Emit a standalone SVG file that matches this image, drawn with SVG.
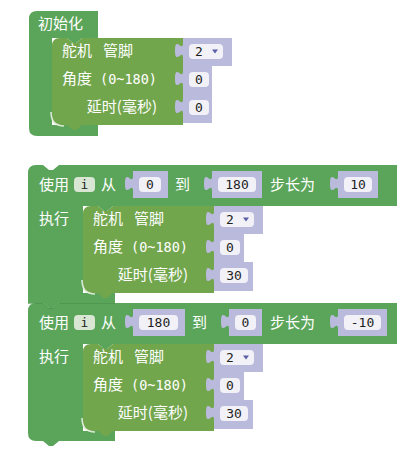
<svg xmlns="http://www.w3.org/2000/svg" width="418" height="452" viewBox="0 0 418 452">
<style>
.outer{fill:#5ba55b}
.servo{fill:#72a64d}
.val{fill:#babadc}
.fld{fill:#f1f1f7}
.ibox{fill:#d9e6d4}
.hl{fill:none;stroke:#eef4ea;stroke-width:1.6;opacity:.85}
.seam{fill:none;stroke:#4a8f4a;stroke-width:1;opacity:.6}
.lbl{font-family:"Noto Sans CJK SC","Noto Sans",sans-serif;font-size:15px;fill:#ffffff}
.mlbl{font-family:"DejaVu Sans Mono",monospace;font-size:13.5px;fill:#ffffff}
.num{font-family:"DejaVu Sans Mono",monospace;font-size:13px;fill:#1e1e1e}
.mid{text-anchor:middle}
.end{text-anchor:end}
.arr{fill:#5b5fa8}
</style>
<rect width="418" height="452" fill="#ffffff"/>
<g id="connectors"/>

<g id="init">
<path class="outer" d="M29,19 Q29,11 37,11 H98 V38 H82 l-6,5 h-3 l-6,-5 H52 V125 H98 V136 H37 Q29,136 29,128 Z"/>
<text class="lbl" x="38" y="29">初始化</text>
</g>
<g id="servo1">
<path class="servo" d="M52,46 Q52,38 60,38 H67 l6,5 h3 l6,-5 H183 V125 H82 l-6,5 h-3 l-6,-5 H60 Q52,125 52,117 Z"/>
<path class="hl" d="M51,112 Q51,126 64,126"/>
<text class="lbl" x="62" y="56">舵机</text>
<text class="lbl" x="103" y="56">管脚</text>
<text class="lbl" x="62" y="84">角度</text>
<text class="mlbl" x="100" y="84">(0~180)</text>
<text class="lbl end" x="157" y="112">延时(毫秒)</text>
<path class="val" d="M183,38 V43 c0,10 -8,-8 -8,7.5 s8,-2.5 8,7.5 V66 H232 V38 Z"/>
<path class="val" d="M183,66 V71 c0,10 -8,-8 -8,7.5 s8,-2.5 8,7.5 V94 H212 V66 Z"/>
<path class="val" d="M183,94 V99 c0,10 -8,-8 -8,7.5 s8,-2.5 8,7.5 V123 H212 V94 Z"/>
<rect class="fld" x="189" y="44" width="34" height="15" rx="4"/>
<text class="num" x="195" y="55.5">2</text>
<path class="arr" d="M212,49.5 h6 l-3,4 Z"/>
<rect class="fld" x="189" y="72" width="20" height="15" rx="4"/>
<text class="num mid" x="199" y="83.5">0</text>
<rect class="fld" x="189" y="100" width="20" height="15" rx="4"/>
<text class="num mid" x="199" y="111.5">0</text>
</g>

<g id="for2">
<path class="outer" d="M28,311 Q28,303 36,303 H43 l6,5 h4 l6,-5 H397 V344 H113 l-6,5 h-3 l-6,-5 H83 V431 H115 V441 H59 l-6,5 h-4 l-6,-5 H36 Q28,441 28,433 Z"/>
<text class="lbl" x="39" y="328">使用</text>
<rect class="ibox" x="74" y="315" width="21" height="15" rx="4"/>
<text class="num mid" x="84.5" y="326.5">i</text>
<text class="lbl" x="101" y="328">从</text>
<path class="val" d="M133,309 V314 c0,10 -8,-8 -8,7.5 s8,-2.5 8,7.5 V336 H185 V309 Z"/>
<rect class="fld" x="139" y="315" width="39" height="15" rx="4"/>
<text class="num mid" x="158.5" y="326.5">180</text>
<text class="lbl" x="192" y="328">到</text>
<path class="val" d="M229,309 V314 c0,10 -8,-8 -8,7.5 s8,-2.5 8,7.5 V336 H262 V309 Z"/>
<rect class="fld" x="235" y="315" width="21" height="15" rx="4"/>
<text class="num mid" x="245.5" y="326.5">0</text>
<text class="lbl" x="270" y="328">步长为</text>
<path class="val" d="M338,309 V314 c0,10 -8,-8 -8,7.5 s8,-2.5 8,7.5 V336 H387 V309 Z"/>
<rect class="fld" x="344" y="315" width="37" height="15" rx="4"/>
<text class="num mid" x="362.5" y="326.5">-10</text>
<text class="lbl" x="39" y="362">执行</text>
</g>
<g id="servo3">
<path class="servo" d="M83,352 Q83,344 91,344 H98 l6,5 h3 l6,-5 H214 V431 H113 l-6,5 h-3 l-6,-5 H91 Q83,431 83,423 Z"/>
<path class="hl" d="M82,418 Q82,432 95,432"/>
<text class="lbl" x="93" y="362">舵机</text>
<text class="lbl" x="134" y="362">管脚</text>
<text class="lbl" x="93" y="390">角度</text>
<text class="mlbl" x="131" y="390">(0~180)</text>
<text class="lbl end" x="188" y="418">延时(毫秒)</text>
<path class="val" d="M214,344 V349 c0,10 -8,-8 -8,7.5 s8,-2.5 8,7.5 V372 H263 V344 Z"/>
<path class="val" d="M214,372 V377 c0,10 -8,-8 -8,7.5 s8,-2.5 8,7.5 V400 H244 V372 Z"/>
<path class="val" d="M214,400 V405 c0,10 -8,-8 -8,7.5 s8,-2.5 8,7.5 V429 H253 V400 Z"/>
<rect class="fld" x="220" y="350" width="34" height="15" rx="4"/>
<text class="num" x="226" y="361.5">2</text>
<path class="arr" d="M243,355.5 h6 l-3,4 Z"/>
<rect class="fld" x="220" y="378" width="20" height="15" rx="4"/>
<text class="num mid" x="230" y="389.5">0</text>
<rect class="fld" x="220" y="406" width="28" height="15" rx="4"/>
<text class="num mid" x="234" y="417.5">30</text>
</g>

<g id="for1">
<path class="outer" d="M28,173 Q28,165 36,165 H43 l6,5 h4 l6,-5 H397 V206 H113 l-6,5 h-3 l-6,-5 H83 V293 H115 V303 H59 l-6,5 h-4 l-6,-5 H28 Z"/>
<path class="seam" d="M28,303.5 H43 l6,5 h4 l6,-5 H115"/>
<text class="lbl" x="39" y="190">使用</text>
<rect class="ibox" x="74" y="177" width="21" height="15" rx="4"/>
<text class="num mid" x="84.5" y="188.5">i</text>
<text class="lbl" x="101" y="190">从</text>
<path class="val" d="M133,171 V176 c0,10 -8,-8 -8,7.5 s8,-2.5 8,7.5 V198 H168 V171 Z"/>
<rect class="fld" x="139" y="177" width="22" height="15" rx="4"/>
<text class="num mid" x="150" y="188.5">0</text>
<text class="lbl" x="175" y="190">到</text>
<path class="val" d="M212,171 V176 c0,10 -8,-8 -8,7.5 s8,-2.5 8,7.5 V198 H262 V171 Z"/>
<rect class="fld" x="218" y="177" width="38" height="15" rx="4"/>
<text class="num mid" x="237" y="188.5">180</text>
<text class="lbl" x="270" y="190">步长为</text>
<path class="val" d="M338,171 V176 c0,10 -8,-8 -8,7.5 s8,-2.5 8,7.5 V198 H378 V171 Z"/>
<rect class="fld" x="344" y="177" width="28" height="15" rx="4"/>
<text class="num mid" x="358" y="188.5">10</text>
<text class="lbl" x="39" y="224">执行</text>
</g>
<g id="servo2">
<path class="servo" d="M83,214 Q83,206 91,206 H98 l6,5 h3 l6,-5 H214 V293 H113 l-6,5 h-3 l-6,-5 H91 Q83,293 83,285 Z"/>
<path class="hl" d="M82,280 Q82,294 95,294"/>
<text class="lbl" x="93" y="224">舵机</text>
<text class="lbl" x="134" y="224">管脚</text>
<text class="lbl" x="93" y="252">角度</text>
<text class="mlbl" x="131" y="252">(0~180)</text>
<text class="lbl end" x="188" y="280">延时(毫秒)</text>
<path class="val" d="M214,206 V211 c0,10 -8,-8 -8,7.5 s8,-2.5 8,7.5 V234 H263 V206 Z"/>
<path class="val" d="M214,234 V239 c0,10 -8,-8 -8,7.5 s8,-2.5 8,7.5 V262 H244 V234 Z"/>
<path class="val" d="M214,262 V267 c0,10 -8,-8 -8,7.5 s8,-2.5 8,7.5 V291 H253 V262 Z"/>
<rect class="fld" x="220" y="212" width="34" height="15" rx="4"/>
<text class="num" x="226" y="223.5">2</text>
<path class="arr" d="M243,217.5 h6 l-3,4 Z"/>
<rect class="fld" x="220" y="240" width="20" height="15" rx="4"/>
<text class="num mid" x="230" y="251.5">0</text>
<rect class="fld" x="220" y="268" width="28" height="15" rx="4"/>
<text class="num mid" x="234" y="279.5">30</text>
</g>
</svg>
